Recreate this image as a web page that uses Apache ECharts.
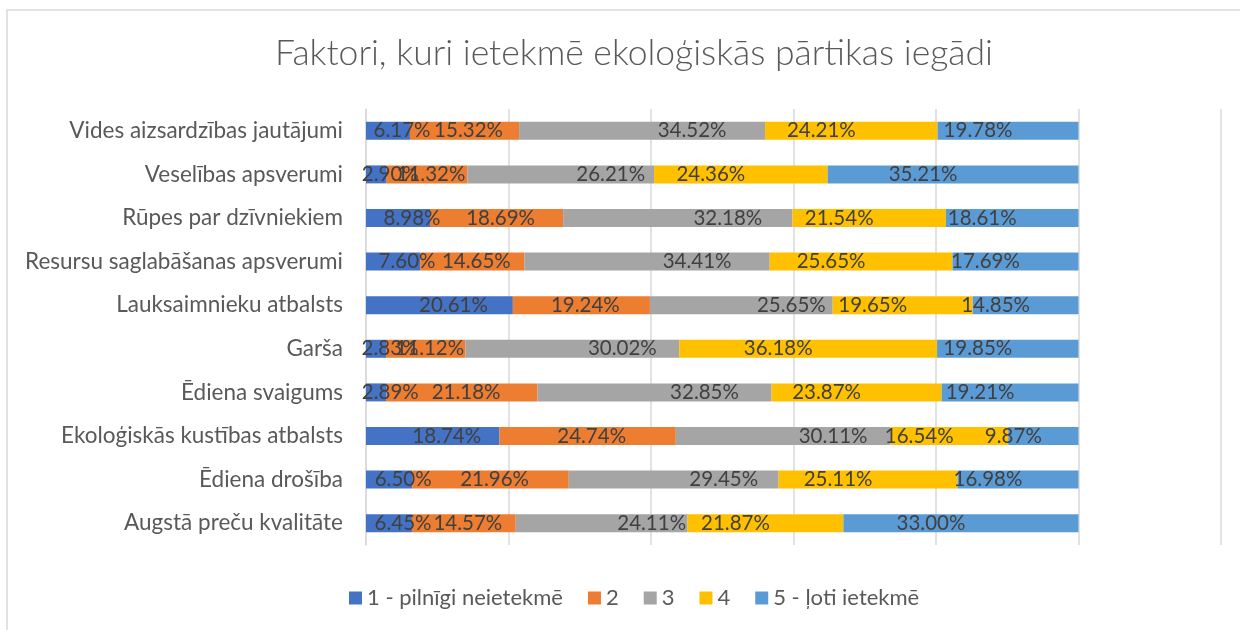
<!DOCTYPE html>
<html>
<head>
<meta charset="utf-8">
<script src="https://cdn.jsdelivr.net/npm/echarts@6/dist/echarts.min.js"></script>
<style>
  html, body { margin: 0; padding: 0; background: #fff; }
  #chart { width: 1240px; height: 630px; }
</style>
</head>
<body>
<div id="chart"></div>
<script>
  // categories bottom -> top (category axis on y starts at bottom)
  const categories = [
    'Augstā preču kvalitāte',
    'Ēdiena drošība',
    'Ekoloģiskās kustības atbalsts',
    'Ēdiena svaigums',
    'Garša',
    'Lauksaimnieku atbalsts',
    'Resursu saglabāšanas apsverumi',
    'Rūpes par dzīvniekiem',
    'Veselības apsverumi',
    'Vides aizsardzības jautājumi',
  ];
  const seriesNames = ['1 - pilnīgi neietekmē', '2', '3', '4', '5 - ļoti ietekmē'];
  const level1 = [6.45, 6.50, 18.74, 2.89, 2.83, 20.61, 7.60, 8.98, 2.90, 6.17];
  const level2 = [14.57, 21.96, 24.74, 21.18, 11.12, 19.24, 14.65, 18.69, 11.32, 15.32];
  const level3 = [24.11, 29.45, 30.11, 32.85, 30.02, 25.65, 34.41, 32.18, 26.21, 34.52];
  const level4 = [21.87, 25.11, 16.54, 23.87, 36.18, 19.65, 25.65, 21.54, 24.36, 24.21];
  const level5 = [33.00, 16.98, 9.87, 19.21, 19.85, 14.85, 17.69, 18.61, 35.21, 19.78];
  const xTicks = [0, 20, 40, 60, 80, 100, 120];

  const colors = ['#4472C4', '#ED7D31', '#A5A5A5', '#FFC000', '#5B9BD5'];
  const labelShift = [14, 4, 50, -30, -30];
  const font = 'Lato';

  const chart = echarts.init(document.getElementById('chart'));
  const option = {
    animation: false,
    color: colors,
    title: {
      text: 'Faktori, kuri ietekmē ekoloģiskās pārtikas iegādi',
      left: 629,
      textAlign: 'center',
      top: 31,
      textStyle: { color: '#595959', fontSize: 35.5, fontWeight: 300, fontFamily: font },
    },
    graphic: [
      {
        type: 'rect',
        shape: { x: 7, y: 10, width: 1400, height: 800 },
        style: { fill: 'none', stroke: '#d9d9d9', lineWidth: 1.5 },
        silent: true,
      },
    ],
    legend: {
      bottom: 16,
      left: 344,
      itemWidth: 13,
      itemHeight: 13,
      itemGap: 25,
      icon: 'rect',
      textStyle: { color: '#595959', fontSize: 22, fontFamily: font },
      data: seriesNames,
    },
    grid: { left: 366, right: 19, top: 109, bottom: 85, containLabel: false },
    xAxis: {
      type: 'value',
      min: xTicks[0],
      max: xTicks[xTicks.length - 1],
      interval: 20,
      axisLabel: { show: false },
      axisLine: { show: false },
      axisTick: { show: false },
      splitLine: { lineStyle: { color: '#d9d9d9', width: 1.5 } },
    },
    yAxis: {
      type: 'category',
      data: categories,
      axisTick: { show: false },
      axisLine: { show: true, lineStyle: { color: '#d9d9d9', width: 1.5 } },
      axisLabel: { color: '#595959', fontSize: 22.5, fontFamily: font, margin: 23 },
    },
    series: [level1, level2, level3, level4, level5].map((vals, i) => ({
      name: seriesNames[i],
      type: 'bar',
      stack: 'total',
      barWidth: 18,
      data: vals,
      itemStyle: { color: colors[i] },
      label: {
        show: true,
        position: 'inside',
        offset: [labelShift[i], 0],
        color: '#404040',
        fontSize: 20.5,
        fontFamily: font,
        formatter: (p) => p.value.toFixed(2) + '%',
      },
    })),
  };
  chart.setOption(option);
</script>
</body>
</html>
